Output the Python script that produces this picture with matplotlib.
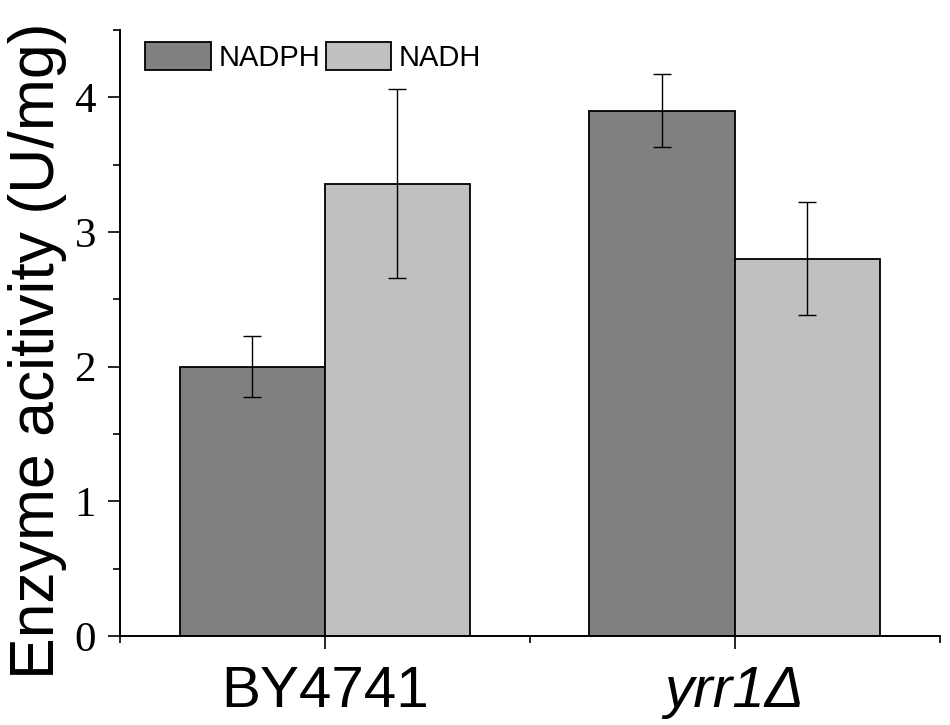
import matplotlib.pyplot as plt
import numpy as np
from matplotlib.ticker import MultipleLocator, FixedLocator

strains = ["BY4741", "yrr1Δ"]
nadph = [2.00, 3.90]
nadph_err = [0.225, 0.27]
nadh = [3.36, 2.80]
nadh_err = [0.705, 0.42]

fig = plt.figure(figsize=(9.5, 7.25), dpi=100)
ax = fig.add_axes([0.126, 0.1228, 0.863, 0.8358])

x = np.arange(1, len(strains) + 1)
w = 0.354
err_kw = dict(ecolor="black", elinewidth=1.0, capsize=6.5, capthick=1.0)
ax.bar(x - w / 2, nadph, w, yerr=nadph_err, color="#808080", edgecolor="black",
       linewidth=1.3, label="NADPH", error_kw=err_kw)
ax.bar(x + w / 2, nadh, w, yerr=nadh_err, color="#c0c0c0", edgecolor="black",
       linewidth=1.3, label="NADH", error_kw=err_kw)

ax.set_xlim(0.5, 2.5)
ax.set_ylim(0, 4.5)
ax.spines["top"].set_visible(False)
ax.spines["right"].set_visible(False)
for s in ("left", "bottom"):
    ax.spines[s].set_linewidth(1.4)

ax.set_xticks(x)
ax.set_xticklabels(strains, fontfamily="Liberation Sans", fontsize=42)
ax.get_xticklabels()[1].set_fontstyle("italic")
ax.xaxis.set_minor_locator(FixedLocator([0.5, 1.5, 2.5]))
ax.yaxis.set_major_locator(MultipleLocator(1))
ax.yaxis.set_minor_locator(MultipleLocator(0.5))
ax.tick_params(axis="both", which="major", length=9, width=1.2, direction="out")
ax.tick_params(axis="both", which="minor", length=5, width=1.2, direction="out")
ax.tick_params(axis="x", which="major", pad=12)
ax.tick_params(axis="y", which="major", pad=8)
for lbl in ax.get_yticklabels():
    lbl.set_fontfamily("Liberation Serif")
    lbl.set_fontsize(31)

ax.set_ylabel("Enzyme acitivity (U/mg)", fontfamily="Liberation Sans", fontsize=45)
ax.yaxis.set_label_coords(-0.064, 0.47)

ax.legend(loc="upper left", ncol=2, frameon=False, prop={"family": "Liberation Sans", "size": 21},
          handlelength=2.25, handleheight=1.1, handletextpad=0.25, columnspacing=0.2,
          bbox_to_anchor=(0.017, 1.0), borderaxespad=0)

fig.savefig("out.png", dpi=100)
